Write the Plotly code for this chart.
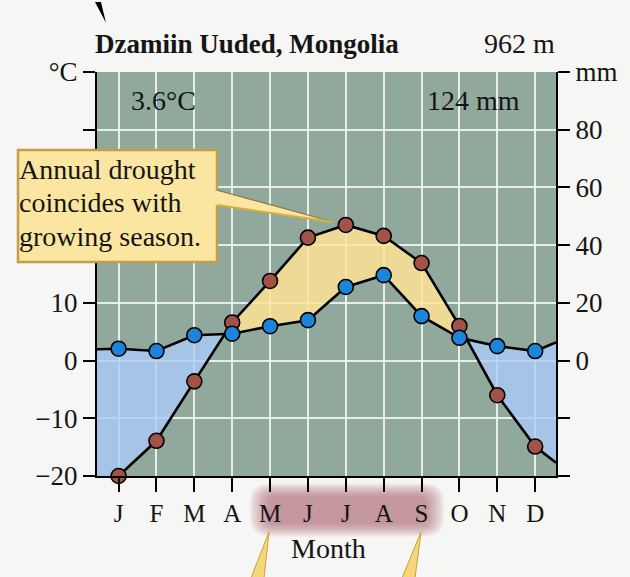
import numpy as np
import plotly.graph_objects as go

# ---------------- data ----------------
months = ['J', 'F', 'M', 'A', 'M', 'J', 'J', 'A', 'S', 'O', 'N', 'D']
temp_c = [-20.0, -13.9, -3.6, 6.6, 13.8, 21.3, 23.5, 21.6, 16.9, 6.0, -6.0, -14.9]
precip_mm = [4.1, 3.3, 8.8, 9.3, 11.9, 14.0, 25.5, 29.6, 15.4, 7.9, 5.0, 3.3]
# where the curves meet the left / right plot edges
temp_edge_c = [-20.0, -17.7]
precip_edge_mm = [3.9, 6.3]

temp_ticks = [-20, -10, 0, 10, 20, 30, 40, 50]
temp_ticktext = ['\u221220', '\u221210', '0', '10', '', '', '', '\u00b0C']
precip_ticks = [-40, -20, 0, 20, 40, 60, 80, 100]
precip_ticktext = ['', '', '0', '20', '40', '60', '80', 'mm']

station = 'Dzamiin Uuded, Mongolia'
elevation = '962 m'
mean_temp = '3.6\u00b0C'
annual_precip = '124 mm'
callout_lines = ['Annual drought', 'coincides with', 'growing season.']
axis_title = 'Month'

# ---------------- layout constants ----------------
W, H = 630, 577
ML, MR, MT, MB = 97, 74, 72, 101
X_RANGE = [-0.57, 11.55]
FONT = 'Liberation Serif, Times New Roman, serif'

PLOT_BG = 'rgb(144,169,156)'
BLUE_FILL = 'rgba(171,202,249,0.80)'
YELLOW_FILL = 'rgba(255,227,150,0.85)'
RED_MK = 'rgb(163,82,72)'
BLUE_MK = 'rgb(28,132,218)'
BOX_FILL = 'rgb(250,230,160)'
BOX_LINE = 'rgb(196,158,76)'


def px(x):
    return (x - ML) / (W - ML - MR)


def py(y):
    return (H - MB - y) / (H - MT - MB)


idx = list(range(len(months)))

# ---------------- fill polygons (precip on the 2:1 temperature scale) ----------------
xk = [X_RANGE[0]] + idx + [X_RANGE[1]]
tk = [temp_edge_c[0]] + temp_c + [temp_edge_c[1]]
pk = [precip_edge_mm[0] / 2] + [p / 2 for p in precip_mm] + [precip_edge_mm[1] / 2]
xs = np.linspace(X_RANGE[0], X_RANGE[1], 2400)
ti = np.interp(xs, xk, tk)
pi = np.interp(xs, xk, pk)

fig = go.Figure()
nofill = dict(mode='lines', line=dict(width=0), hoverinfo='skip', showlegend=False)
fig.add_trace(go.Scatter(x=xs, y=pi, **nofill))
fig.add_trace(go.Scatter(x=xs, y=np.maximum(ti, pi), fill='tonexty', fillcolor=YELLOW_FILL, **nofill))
fig.add_trace(go.Scatter(x=xs, y=np.minimum(ti, pi), **nofill))
fig.add_trace(go.Scatter(x=xs, y=pi, fill='tonexty', fillcolor=BLUE_FILL, **nofill))

# temperature line + markers (left axis)
fig.add_trace(go.Scatter(x=idx + [X_RANGE[1]], y=temp_c + [temp_edge_c[1]], mode='lines',
                         line=dict(color='black', width=2.6), showlegend=False, hoverinfo='skip'))
fig.add_trace(go.Scatter(x=idx, y=temp_c, mode='markers', cliponaxis=False,
                         marker=dict(size=15, color=RED_MK, line=dict(color='black', width=1.6)),
                         showlegend=False))

# precipitation line + markers (right axis)
fig.add_trace(go.Scatter(x=[X_RANGE[0]] + idx + [X_RANGE[1]],
                         y=[precip_edge_mm[0]] + precip_mm + [precip_edge_mm[1]],
                         mode='lines', yaxis='y2',
                         line=dict(color='black', width=2.6), showlegend=False, hoverinfo='skip'))
fig.add_trace(go.Scatter(x=idx, y=precip_mm, mode='markers', yaxis='y2', cliponaxis=False,
                         marker=dict(size=15, color=BLUE_MK, line=dict(color='black', width=1.6)),
                         showlegend=False))

# ---------------- shapes ----------------
shapes = []


def rrect(x0, y0, x1, y1, r):
    rx = r / (W - ML - MR)
    ry = r / (H - MT - MB)
    a, b, c, d = px(x0), px(x1), py(y0), py(y1)  # c top, d bottom (paper)
    return (f'M {a+rx},{c} L {b-rx},{c} Q {b},{c} {b},{c-ry} L {b},{d+ry} Q {b},{d} {b-rx},{d} '
            f'L {a+rx},{d} Q {a},{d} {a},{d+ry} L {a},{c-ry} Q {a},{c} {a+rx},{c} Z')


# soft reddish glow behind M..S
n_layers = 9
for k in range(n_layers):
    g = 12 - 2.2 * k
    r = max(20 - 1.5 * k, 8)
    shapes.append(dict(type='path', xref='paper', yref='paper', layer='below',
                       path=rrect(262 - g, 492 - g * 0.7, 432 + g, 528 + g * 0.7, r),
                       fillcolor='rgba(168,76,92,0.085)', line=dict(width=0)))

# callout box
shapes.append(dict(type='rect', xref='paper', yref='paper', layer='above',
                   x0=px(18), x1=px(217), y0=py(262), y1=py(150),
                   fillcolor=BOX_FILL, line=dict(color=BOX_LINE, width=2.5)))
# callout pointer
shapes.append(dict(type='path', xref='paper', yref='paper', layer='above',
                   path=f'M {px(214)},{py(190)} L {px(333)},{py(222)} L {px(214)},{py(205)} Z',
                   fillcolor=BOX_FILL, line=dict(width=0)))
shapes.append(dict(type='line', xref='paper', yref='paper', layer='above',
                   x0=px(217), y0=py(190), x1=px(333), y1=py(222),
                   line=dict(color='rgb(150,120,70)', width=1.2)))
shapes.append(dict(type='line', xref='paper', yref='paper', layer='above',
                   x0=px(217), y0=py(205), x1=px(333), y1=py(222),
                   line=dict(color='rgb(215,175,60)', width=2)))

# yellow pointers below the month labels
for tipx, bx0, bx1 in [(269, 251, 264), (421, 402, 415)]:
    shapes.append(dict(type='path', xref='paper', yref='paper', layer='above',
                       path=f'M {px(tipx)},{py(532)} L {px(bx1)},{py(578)} L {px(bx0)},{py(578)} Z',
                       fillcolor='rgb(245,215,120)', line=dict(color='rgb(200,160,60)', width=1)))

# small black pointer at top
shapes.append(dict(type='path', xref='paper', yref='paper', layer='above',
                   path=f'M {px(95)},{py(2)} L {px(101)},{py(2)} L {px(106)},{py(23)} Z',
                   fillcolor='black', line=dict(width=0)))

# ---------------- annotations ----------------
ann = []


def text(x, y, s, size=26, anchor='left', bold=False):
    ann.append(dict(x=px(x), y=py(y), xref='paper', yref='paper', text=f'<b>{s}</b>' if bold else s,
                    showarrow=False, xanchor=anchor, yanchor='middle',
                    font=dict(family=FONT, size=size, color='#151515')))


text(93, 44, station, 27, 'left', True)
text(557, 44, elevation, 28, 'right')
text(129, 101, mean_temp, 28, 'left')
text(522, 101, annual_precip, 28, 'right')
for i, s in enumerate(callout_lines):
    text(17, 169 + 33.5 * i, s, 28, 'left')
text(328, 548, axis_title, 28, 'center')

# ---------------- layout ----------------
tick_common = dict(ticks='outside', tickwidth=2, tickcolor='black', showline=True,
                   linecolor='black', linewidth=2.2, zeroline=False)

fig.update_layout(
    width=W, height=H, autosize=False,
    margin=dict(l=ML, r=MR, t=MT, b=MB, pad=0),
    paper_bgcolor='rgb(246,246,244)', plot_bgcolor=PLOT_BG,
    showlegend=False,
    font=dict(family=FONT, color='#151515'),
    xaxis=dict(range=X_RANGE, tickvals=idx, ticktext=months, ticklen=14,
               showgrid=True, gridcolor='rgba(255,255,255,0.8)', gridwidth=1.6,
               tickfont=dict(family=FONT, size=25), ticklabelstandoff=0, **tick_common),
    yaxis=dict(range=[-20, 50], tickvals=temp_ticks, ticktext=temp_ticktext, ticklen=12,
               showgrid=True, gridcolor='rgba(255,255,255,0.8)', gridwidth=1.6,
               tickfont=dict(family=FONT, size=27), **tick_common),
    yaxis2=dict(range=[-40, 100], tickvals=precip_ticks, ticktext=precip_ticktext, ticklen=12,
                overlaying='y', side='right', showgrid=False,
                tickfont=dict(family=FONT, size=27), **tick_common),
    shapes=shapes, annotations=ann,
)

fig.write_html('out.html', config={'displayModeBar': False},
               post_script="document.body.style.margin='0';document.body.style.background='rgb(246,246,244)';")
